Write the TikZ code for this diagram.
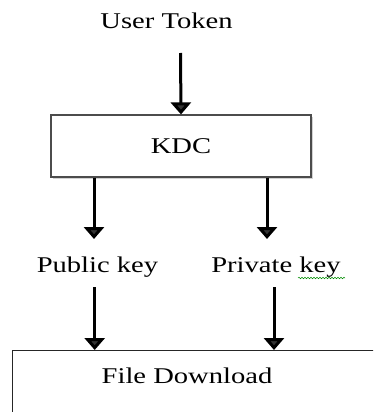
\documentclass[tikz,border=0pt]{standalone}
\usepackage{fontspec}
\setmainfont{Liberation Serif}[FakeStretch=1.27]
\usetikzlibrary{arrows.meta, shadows, decorations.pathmorphing}

\begin{document}
\begin{tikzpicture}
[ x=1pt, y=-1pt
, font=\fontsize{22.5}{27}\selectfont
, flow/.style={line width=3pt, draw=black, -{Triangle[width=20pt, length=12pt, fill=black!80]}}
, block/.style={rectangle, draw=black!70, line width=1.2pt, fill=white, drop shadow={shadow xshift=2pt, shadow yshift=-2pt, fill=black!35}}
, bigblock/.style={rectangle, draw=black!85, line width=1.2pt, anchor=north west}
, keytext/.style={inner sep=0pt}
, squiggle/.style={draw=green!55!black, line width=0.5pt, decorate, decoration={snake, amplitude=0.8pt, segment length=3pt}}
]
\useasboundingbox (0,0) rectangle (373,412);
\clip (0,0) rectangle (373,412);
% Top part:
\node (token) [keytext] at (166.5,21) {User Token};
\node (kdc) [block, minimum width=260pt, minimum height=62pt] at (181,146) {KDC};
\coordinate (tokenout) at (180.5,53);
\draw [flow] (tokenout) -- (kdc.north);
% Keys:
\node (pub) [keytext] at (97.5,267) {Public key};
\node (priv) [keytext] at (276,267) {Private key};
\coordinate (pubin) at (94,239);
\coordinate (privin) at (267,239);
\draw [flow] (kdc.south -| pubin) -- (pubin);
\draw [flow] (kdc.south -| privin) -- (privin);
\path [squiggle] (298,278) -- (345,278);
% Bottom box, running off the page:
\node (dl) [bigblock, minimum width=600pt, minimum height=150pt] at (12,350) {};
\node (dltext) [keytext] at (187,376) {File Download};
\coordinate (pubout) at (94.7,287);
\coordinate (privout) at (274,287);
\draw [flow] (pubout) -- (pubout |- dl.north);
\draw [flow] (privout) -- (privout |- dl.north);
\end{tikzpicture}
\end{document}
